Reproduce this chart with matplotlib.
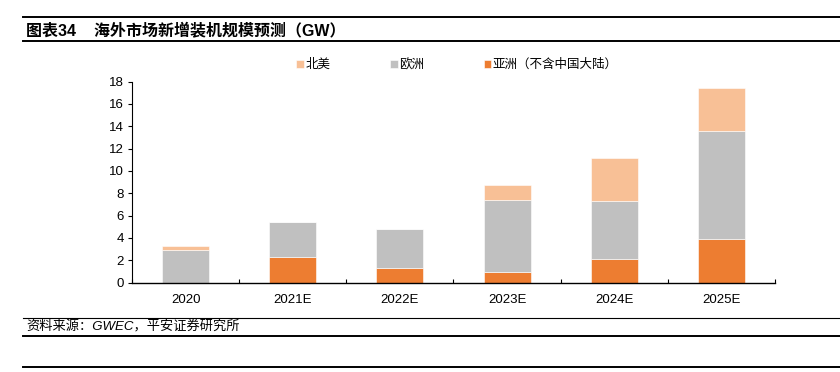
# 海外市场新增装机规模预测（GW）stacked bars
import matplotlib.pyplot as plt
from matplotlib.lines import Line2D
import numpy as np

plt.rcParams['font.family'] = ['Liberation Sans', 'Noto Sans CJK SC', 'DejaVu Sans']

# data
years = ['2020', '2021E', '2022E', '2023E', '2024E', '2025E']
asia = [0.0, 2.24, 1.28, 0.95, 2.11, 3.87]         # 亚洲（不含中国大陆）
europe = [2.88, 3.21, 3.52, 6.48, 5.20, 9.70]      # 欧洲
north_america = [0.40, 0.0, 0.0, 1.34, 3.84, 3.89]  # 北美

c_asia = '#ED7D31'
c_eu = '#C0C0C0'
c_na = '#F8C096'

W, H = 840, 372
fig = plt.figure(figsize=(W / 100, H / 100), dpi=100)

# axes placed in pixel coordinates of the reference
left, right, top, bottom = 132, 775, 81.5, 282.5
ax = fig.add_axes([left / W, 1 - bottom / H, (right - left) / W, (bottom - top) / H])

x = np.arange(len(years))
bw = 0.44
asia = np.array(asia)
europe = np.array(europe)
north_america = np.array(north_america)

ax.bar(x, asia, bw, color=c_asia, label='亚洲（不含中国大陆）', edgecolor='white', linewidth=0.4)
ax.bar(x, europe, bw, bottom=asia, color=c_eu, label='欧洲', edgecolor='white', linewidth=0.4)
ax.bar(x, north_america, bw, bottom=asia + europe, color=c_na, label='北美',
       edgecolor='white', linewidth=0.4)

ax.set_xlim(-0.5, len(years) - 0.5)
ax.set_ylim(0, 18)
ax.set_yticks(range(0, 19, 2))
ax.set_xticks(x)
ax.set_xticklabels(years)
ax.set_xticks(np.arange(-0.5, len(years), 1), minor=True)

for s in ['top', 'right']:
    ax.spines[s].set_visible(False)
ax.spines['left'].set_linewidth(0.8)
ax.spines['bottom'].set_linewidth(1.0)

ax.tick_params(axis='y', length=3, width=0.8, pad=3, labelsize=9.5, colors='black')
ax.tick_params(axis='x', which='major', length=0, pad=8, labelsize=9.5)
ax.tick_params(axis='x', which='minor', direction='in', length=3, width=0.8)

# legend
h, l = ax.get_legend_handles_labels()
order = [2, 1, 0]
fig.legend([h[i] for i in order], [l[i] for i in order], loc='center',
           bbox_to_anchor=(457 / W, 1 - 65 / H), ncol=3, frameon=False,
           fontsize=9, handlelength=0.6, handleheight=0.6, handletextpad=0.1,
           columnspacing=4.8)

# title and rules
fig.text(26 / W, 1 - 30 / H, '图表34    海外市场新增装机规模预测（GW）',
         fontsize=11.5, fontweight='bold', va='center', ha='left')
for yy, lw in [(17, 1.4), (41, 1.4), (318, 0.8), (336, 1.4), (367, 1.4)]:
    fig.add_artist(Line2D([23 / W, 1.0], [1 - yy / H, 1 - yy / H],
                          color='black', linewidth=lw))

fig.text(26 / W, 1 - 327 / H, '资料来源：GWEC，平安证券研究所',
         fontsize=9.5, style='italic', va='center', ha='left')

fig.savefig('out.png', dpi=100)
